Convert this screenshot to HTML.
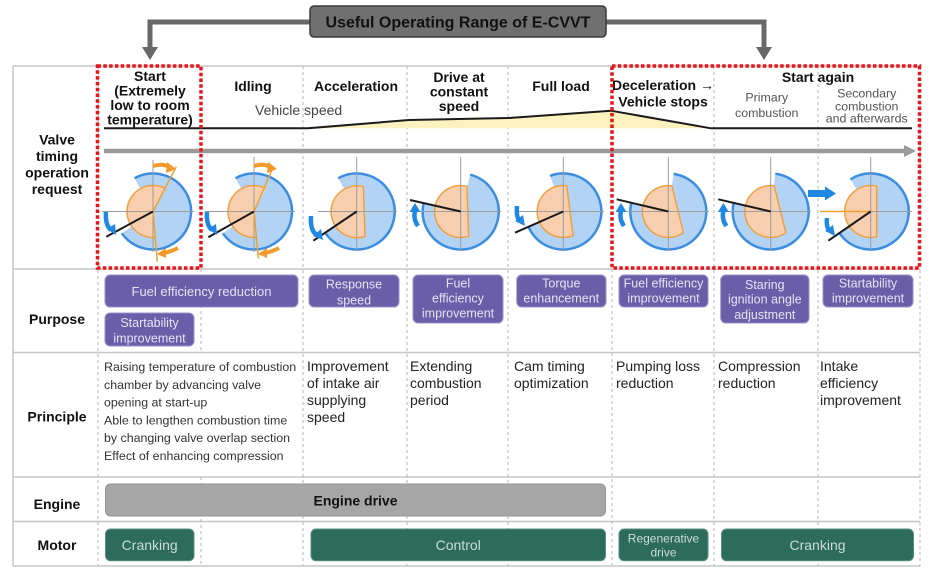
<!DOCTYPE html>
<html><head><meta charset="utf-8"><style>
html,body{margin:0;padding:0;background:#fff;}
body{width:929px;height:571px;overflow:hidden;}
svg{display:block;font-family:"Liberation Sans",Arial,sans-serif;}
.hb{font-weight:bold;font-size:14px;fill:#111;text-anchor:middle;}
.sm{font-size:12.4px;fill:#555;text-anchor:middle;}
.pb{font-size:12.5px;fill:#e6e2f5;text-anchor:middle;}
.pr{font-size:12.4px;fill:#333;}
.pl{font-size:14px;fill:#222;}
.bf{fill:#b3d3f4;}
.bs{fill:none;stroke:#3a8de0;stroke-width:2.5;}
.of{fill:#f8cfae;stroke:#f0a040;stroke-width:1.5;}
.ch{stroke:#9c9c9c;stroke-width:1;}
.bl{stroke:#1a1a1a;stroke-width:2;}
.ba{fill:none;stroke:#2088e2;stroke-width:4.5;}
.bah{fill:#2088e2;}
.oa{fill:none;stroke:#f39a2a;stroke-width:4;}
.oah{fill:#f39a2a;}
.vd{stroke:#b4b4b4;stroke-width:1;stroke-dasharray:3 3;}
.hl{stroke:#c6c6c6;stroke-width:1.5;}
.pp{fill:#6b5ea8;stroke:#9a90c8;stroke-width:1;}
.mt{fill:#2d6b5b;stroke:#5a8f80;stroke-width:1;}
.mtt{font-size:14px;fill:#c9ddd5;text-anchor:middle;}
</style></head><body>
<svg width="929" height="571" viewBox="0 0 929 571" xmlns="http://www.w3.org/2000/svg">
<!-- title & connectors -->
<polyline points="310,22 150,22 150,48" fill="none" stroke="#686868" stroke-width="5"/>
<polygon points="142,47 158,47 150,60" fill="#686868"/>
<polyline points="606,22 764,22 764,48" fill="none" stroke="#686868" stroke-width="5"/>
<polygon points="756,47 772,47 764,60" fill="#686868"/>
<rect x="310" y="6" width="296" height="31" rx="4" fill="#707070" stroke="#3a3a3a" stroke-width="1.5"/>
<text x="458" y="27.5" style="font-weight:bold;font-size:16px;fill:#111;text-anchor:middle;">Useful Operating Range of E-CVVT</text>

<!-- table grid -->
<line x1="13" y1="66" x2="920" y2="66" class="hl"/>
<line x1="13" y1="269" x2="920" y2="269" class="hl"/>
<line x1="13" y1="352.5" x2="920" y2="352.5" class="hl"/>
<line x1="13" y1="477" x2="920" y2="477" class="hl"/>
<line x1="13" y1="521.5" x2="920" y2="521.5" class="hl"/>
<line x1="13" y1="566" x2="920" y2="566" class="hl"/>
<line x1="13" y1="66" x2="13" y2="566" class="hl"/>
<line x1="920" y1="66" x2="920" y2="566" class="vd"/>
<line x1="98" y1="66" x2="98" y2="566" class="vd"/>
<line x1="201" y1="269" x2="201" y2="352" class="vd"/>
<line x1="201" y1="477" x2="201" y2="566" class="vd"/>
<line x1="303" y1="66" x2="303" y2="566" class="vd"/>
<line x1="407" y1="66" x2="407" y2="566" class="vd"/>
<line x1="508" y1="66" x2="508" y2="566" class="vd"/>
<line x1="612" y1="269" x2="612" y2="566" class="vd"/>
<line x1="714" y1="66" x2="714" y2="566" class="vd"/>
<line x1="818" y1="66" x2="818" y2="566" class="vd"/>

<!-- left labels -->
<text class="hb" x="57" y="144.5">Valve</text>
<text class="hb" x="57" y="161">timing</text>
<text class="hb" x="57" y="177.5">operation</text>
<text class="hb" x="57" y="194">request</text>
<text class="hb" x="57" y="324">Purpose</text>
<text class="hb" x="57" y="421.7">Principle</text>
<text class="hb" x="57" y="509">Engine</text>
<text class="hb" x="57" y="550">Motor</text>

<!-- header texts -->
<text class="hb" x="150" y="81">Start</text>
<text class="hb" x="150" y="95.5">(Extremely</text>
<text class="hb" x="150" y="110">low to room</text>
<text class="hb" x="150" y="124.5">temperature)</text>
<text class="hb" x="253" y="91">Idling</text>
<text class="hb" x="356" y="91">Acceleration</text>
<text class="hb" x="459" y="82">Drive at</text>
<text class="hb" x="459" y="96.5">constant</text>
<text class="hb" x="459" y="111">speed</text>
<text class="hb" x="561" y="91">Full load</text>
<text class="hb" x="663" y="90">Deceleration →</text>
<text class="hb" x="663" y="106.5">Vehicle stops</text>
<text class="hb" x="818" y="82">Start again</text>
<text class="sm" x="766.7" y="101.7">Primary</text>
<text class="sm" x="766.7" y="117">combustion</text>
<text class="sm" x="866.7" y="97.7">Secondary</text>
<text class="sm" x="866.7" y="110.4">combustion</text>
<text class="sm" x="866.7" y="122.7">and afterwards</text>
<text x="255" y="115" style="font-size:14px;fill:#444;">Vehicle speed</text>

<!-- speed curve -->
<polygon points="308,128.3 409,120 509,118 611,110.7 711,128.3" fill="#fcf2c0"/>
<polyline points="104,128.3 308,128.3 409,120 509,118 611,110.7 711,128.3 912,128.3" fill="none" stroke="#1a1a1a" stroke-width="2"/>
<!-- gray arrow -->
<line x1="104" y1="151" x2="906" y2="151" stroke="#9a9a9a" stroke-width="4.5"/>
<polygon points="904,145 916,151 904,157" fill="#9a9a9a"/>

<!-- Dial 1 -->
<path class="bf" d="M153,211.5 L134.57,178.26 A38,38 0 1 1 121.87,233.29 Z"/>
<path class="bs" d="M134.57,178.26 A38,38 0 1 1 121.87,233.29"/>
<path d="M153,211.5 L155.27,237.4 A26,26 0 1 1 164.97,188.42 Z" fill="#f8cfae"/>
<path d="M155.27,237.4 A26,26 0 1 1 164.97,188.42" fill="none" stroke="#f0a040" stroke-width="1.5"/>
<line class="ch" x1="102" y1="211.5" x2="194" y2="211.5"/><line class="ch" x1="153" y1="160" x2="153" y2="252"/>
<polyline points="176.3,166.7 153,211.5 157.3,261.7" fill="none" stroke="#f0a030" stroke-width="1.5"/>
<line class="bl" x1="153" y1="211.5" x2="106.3" y2="236.7"/>
<path class="ba" d="M106,212 Q105,225 111,230"/><polygon class="bah" points="107,229 115,224 116,235"/>
<path class="oa" d="M153,166 Q163,163 169,167"/><polygon class="oah" points="167,162 176,169 166,173"/>
<path class="oa" d="M178,248 Q170,252 164,253"/><polygon class="oah" points="166,248 157,254 166,258"/>

<!-- Dial 2 -->
<path class="bf" d="M254,211.5 L235.57,178.26 A38,38 0 1 1 222.87,233.29 Z"/>
<path class="bs" d="M235.57,178.26 A38,38 0 1 1 222.87,233.29"/>
<path d="M254,211.5 L256.27,237.4 A26,26 0 1 1 265.97,188.42 Z" fill="#f8cfae"/>
<path d="M256.27,237.4 A26,26 0 1 1 265.97,188.42" fill="none" stroke="#f0a040" stroke-width="1.5"/>
<line class="ch" x1="205" y1="211.5" x2="295" y2="211.5"/><line class="ch" x1="254" y1="157" x2="254" y2="252"/>
<polyline points="273.3,166.7 254,211.5 258.3,258.3" fill="none" stroke="#f0a030" stroke-width="1.5"/>
<line class="bl" x1="254" y1="211.5" x2="208.3" y2="237.3"/>
<path class="ba" d="M207,212 Q206,225 212,230"/><polygon class="bah" points="208,229 216,224 217,235"/>
<path class="oa" d="M254,166 Q264,163 270,167"/><polygon class="oah" points="268,162 277,169 267,173"/>
<path class="oa" d="M279,248 Q271,252 265,253"/><polygon class="oah" points="267,248 258,254 267,258"/>

<!-- Dial 3 -->
<path class="bf" d="M356.7,211.5 L338.27,178.26 A38,38 0 1 1 325.57,233.29 Z"/>
<path class="bs" d="M338.27,178.26 A38,38 0 1 1 325.57,233.29"/>
<path class="of" d="M363.3,186.5 A26,26 0 1 0 365,236.5 Z"/>
<line class="ch" x1="318" y1="211.5" x2="397" y2="211.5"/><line class="ch" x1="356.7" y1="157" x2="356.7" y2="251"/>
<line class="bl" x1="356.7" y1="211.5" x2="313.3" y2="240.7"/>
<path class="ba" d="M311,216 Q310,231 317,235"/><polygon class="bah" points="313,236 321,229 323,240"/>

<!-- Dial 4 -->
<path class="bf" d="M460.7,211.5 L470.21,174.71 A38,38 0 1 1 423.53,203.6 Z"/>
<path class="bs" d="M470.21,174.71 A38,38 0 1 1 423.53,203.6"/>
<path class="of" d="M466.9,186.3 A26,26 0 1 0 468.7,236.2 Z"/>
<line class="ch" x1="414" y1="211.5" x2="501" y2="211.5"/><line class="ch" x1="460.7" y1="157" x2="460.7" y2="251"/>
<line class="bl" x1="460.7" y1="211.5" x2="410" y2="200"/>
<path class="ba" d="M418,226 Q413,219 415,211"/><polygon class="bah" points="409.5,212 420.5,212 415,203"/>

<!-- Dial 5 -->
<path class="bf" d="M563.3,211.5 L550.11,175.86 A38,38 0 1 1 528.64,227.08 Z"/>
<path class="bs" d="M550.11,175.86 A38,38 0 1 1 528.64,227.08"/>
<path class="of" d="M566.7,185.7 A26,26 0 1 0 573.1,235.5 Z"/>
<line class="ch" x1="518" y1="211.5" x2="604" y2="211.5"/><line class="ch" x1="563.3" y1="157" x2="563.3" y2="251"/>
<line class="bl" x1="563.3" y1="211.5" x2="515" y2="232.7"/>
<path class="ba" d="M517,206 Q516,218 520,221"/><polygon class="bah" points="515,221 523,215 525,226"/>

<!-- Dial 6 -->
<path class="bf" d="M668.3,211.5 L673.59,173.87 A38,38 0 1 1 631.25,203.08 Z"/>
<path class="bs" d="M673.59,173.87 A38,38 0 1 1 631.25,203.08"/>
<path class="of" d="M671.8,185.7 A26,26 0 1 0 683.4,232.7 Z"/>
<line class="ch" x1="622" y1="211.5" x2="709" y2="211.5"/><line class="ch" x1="668.3" y1="157" x2="668.3" y2="251"/>
<line class="bl" x1="668.3" y1="211.5" x2="616.7" y2="199.3"/>
<path class="ba" d="M624,226 Q619,219 621,211"/><polygon class="bah" points="615.5,212 626.5,212 621,203"/>

<!-- Dial 7 -->
<path class="bf" d="M770.7,211.5 L775.33,173.79 A38,38 0 1 1 733.62,203.21 Z"/>
<path class="bs" d="M775.33,173.79 A38,38 0 1 1 733.62,203.21"/>
<path class="of" d="M774.2,185.7 A26,26 0 1 0 785.8,232.7 Z"/>
<line class="ch" x1="724" y1="211.5" x2="811" y2="211.5"/><line class="ch" x1="770.7" y1="157" x2="770.7" y2="251"/>
<line class="bl" x1="770.7" y1="211.5" x2="718.3" y2="199.3"/>
<path class="ba" d="M726.4,226 Q721.4,219 723.4,211"/><polygon class="bah" points="717.9,212 728.9,212 723.4,203"/>

<!-- Dial 8 -->
<path class="bf" d="M870.7,211.5 L850.4,179.38 A38,38 0 1 1 839.57,233.29 Z"/>
<path class="bs" d="M850.4,179.38 A38,38 0 1 1 839.57,233.29"/>
<path class="of" d="M876.7,186.2 A26,26 0 1 0 876.7,236.8 Z"/>
<line class="ch" x1="826" y1="211.5" x2="912" y2="211.5"/><line class="ch" x1="870.7" y1="157" x2="870.7" y2="251"/>
<line x1="820" y1="211.5" x2="870.7" y2="211.5" stroke="#f0a030" stroke-width="1.5"/>
<line class="bl" x1="870.7" y1="211.5" x2="828.3" y2="240.7"/>
<path class="ba" d="M827,218 Q826,228 830,231"/><polygon class="bah" points="825,231 833,225 835,236"/>
<rect x="808" y="190" width="18" height="7" class="bah"/><polygon class="bah" points="825,186.5 836,193.5 825,200.5"/>

<!-- red dotted boxes -->
<rect x="97.5" y="66" width="103.5" height="202" fill="none" stroke="#e8141c" stroke-width="3.5" stroke-dasharray="3.5 2.3"/>
<rect x="612" y="66" width="307.5" height="202" fill="none" stroke="#e8141c" stroke-width="3.5" stroke-dasharray="3.5 2.3"/>

<!-- purpose boxes -->
<rect class="pp" x="105" y="275" width="193" height="32" rx="5"/>
<text class="pb" x="201.5" y="296" style="font-size:13px">Fuel efficiency reduction</text>
<rect class="pp" x="105" y="313" width="89" height="33" rx="5"/>
<text class="pb" x="149.5" y="327">Startability</text><text class="pb" x="149.5" y="342.6">improvement</text>
<rect class="pp" x="309" y="275" width="90" height="32" rx="5"/>
<text class="pb" x="354" y="288.5">Response</text><text class="pb" x="354" y="304.3">speed</text>
<rect class="pp" x="413" y="275" width="90" height="48" rx="5"/>
<text class="pb" x="458" y="287.6">Fuel</text><text class="pb" x="458" y="302.6">efficiency</text><text class="pb" x="458" y="317.6">improvement</text>
<rect class="pp" x="516.7" y="275" width="89.3" height="32" rx="5"/>
<text class="pb" x="561.3" y="287.6">Torque</text><text class="pb" x="561.3" y="302.6">enhancement</text>
<rect class="pp" x="619" y="275" width="89" height="32" rx="5"/>
<text class="pb" x="663.5" y="287.6">Fuel efficiency</text><text class="pb" x="663.5" y="302.6">improvement</text>
<rect class="pp" x="720.7" y="275" width="88.3" height="48" rx="5"/>
<text class="pb" x="764.8" y="289">Staring</text><text class="pb" x="764.8" y="303.6">ignition angle</text><text class="pb" x="764.8" y="319">adjustment</text>
<rect class="pp" x="823" y="275" width="90" height="32" rx="5"/>
<text class="pb" x="868" y="287.6">Startability</text><text class="pb" x="868" y="302.6">improvement</text>

<!-- principle -->
<text class="pr" x="104" y="371">Raising temperature of combustion</text>
<text class="pr" x="104" y="388.8">chamber by advancing valve</text>
<text class="pr" x="104" y="406.6">opening at start-up</text>
<text class="pr" x="104" y="424.4">Able to lengthen combustion time</text>
<text class="pr" x="104" y="442.2">by changing valve overlap section</text>
<text class="pr" x="104" y="460">Effect of enhancing compression</text>
<text class="pl" x="307" y="371">Improvement</text><text class="pl" x="307" y="388">of intake air</text><text class="pl" x="307" y="405">supplying</text><text class="pl" x="307" y="422">speed</text>
<text class="pl" x="410" y="371">Extending</text><text class="pl" x="410" y="388">combustion</text><text class="pl" x="410" y="405">period</text>
<text class="pl" x="514" y="371">Cam timing</text><text class="pl" x="514" y="388">optimization</text>
<text class="pl" x="616" y="371">Pumping loss</text><text class="pl" x="616" y="388">reduction</text>
<text class="pl" x="718" y="371">Compression</text><text class="pl" x="718" y="388">reduction</text>
<text class="pl" x="820" y="371">Intake</text><text class="pl" x="820" y="388">efficiency</text><text class="pl" x="820" y="405">improvement</text>

<!-- engine -->
<rect x="105.5" y="484" width="500" height="32" rx="5" fill="#a6a6a6" stroke="#959595" stroke-width="1"/>
<text class="hb" x="355.5" y="505.7">Engine drive</text>

<!-- motor -->
<rect class="mt" x="105.5" y="529" width="88.5" height="31.7" rx="5"/>
<text class="mtt" x="149.7" y="550">Cranking</text>
<rect class="mt" x="311" y="529" width="294.5" height="31.7" rx="5"/>
<text class="mtt" x="458.2" y="550">Control</text>
<rect class="mt" x="619" y="529" width="89" height="31.7" rx="5"/>
<text class="mtt" x="663.5" y="542.3" style="font-size:12px">Regenerative</text>
<text class="mtt" x="663.5" y="556.7" style="font-size:12px">drive</text>
<rect class="mt" x="721.5" y="529" width="192" height="31.7" rx="5"/>
<text class="mtt" x="817.5" y="550">Cranking</text>
</svg>
</body></html>
